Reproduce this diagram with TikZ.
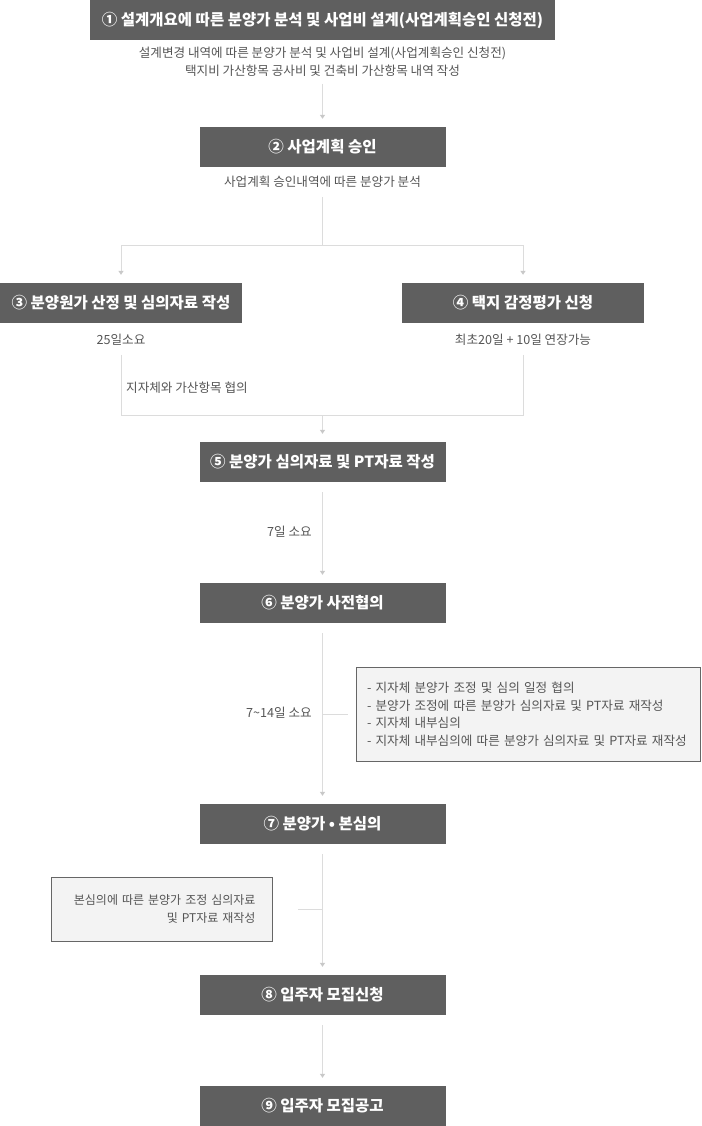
\documentclass[tikz,border=0pt]{standalone}
\usepackage{fontspec}
\setmainfont{Noto Sans CJK KR}
\usepackage{tikz}
\usetikzlibrary{arrows.meta}
\definecolor{boxgray}{HTML}{5F5F5F}
\definecolor{descgray}{HTML}{555555}
\definecolor{linegray}{HTML}{DCDCDC}
\definecolor{tipgray}{HTML}{C8C8C8}
\definecolor{notefill}{HTML}{F3F3F3}
\definecolor{noteline}{HTML}{666666}

\begin{document}
\begin{tikzpicture}[x=1pt,y=-1pt,
    stepbox/.style={fill=boxgray,text=white,font=\fontsize{15.5}{18}\selectfont\bfseries,minimum height=40pt,inner sep=0pt},
    desc/.style={text=descgray,font=\fontsize{12.6}{18}\selectfont,inner sep=0pt,align=center},
    notebox/.style={draw=noteline,fill=notefill,line width=0.8pt,text=descgray,font=\fontsize{12.6}{17.5}\selectfont,inner ysep=0pt},
    link/.style={draw=linegray,line width=1pt},
    flow/.style={link,-{Triangle[width=5pt,length=4pt,color=tipgray]},shorten >=8pt}]
                      \useasboundingbox (0,0) rectangle (701,1126);
                      \node[stepbox,minimum width=465pt](b1)at(322.5,20){① 설계개요에 따른 분양가 분석 및 사업비 설계(사업계획승인 신청전)};
                      \node[desc](d1)at(322.5,62){설계변경 내역에 따른 분양가 분석 및 사업비 설계(사업계획승인 신청전)\\택지비 가산항목 공사비 및 건축비 가산항목 내역 작성};
                      \node[stepbox,minimum width=246pt](b2)at(322.5,147){② 사업계획 승인};
                      \node[desc](d2)at(322.5,182){사업계획 승인내역에 따른 분양가 분석};
                      \node[stepbox,minimum width=242pt](b3)at(121,303){③ 분양원가 산정 및 심의자료 작성};
                      \node[stepbox,minimum width=242pt](b4)at(523,303){④ 택지 감정평가 신청};
                      \node[desc](t3)at(121,340){25일소요};
                      \node[desc](t4)at(523,340){최초20일 + 10일 연장가능};
                      \node[desc,anchor=west](t34)at(126,388){지자체와 가산항목 협의};
                      \node[stepbox,minimum width=246pt](b5)at(322.5,462){⑤ 분양가 심의자료 및 PT자료 작성};
                      \node[desc,anchor=east](t5)at(312,532){7일 소요};
                      \node[stepbox,minimum width=246pt](b6)at(322.5,603){⑥ 분양가 사전협의};
                      \node[desc,anchor=east](t6)at(312,713){7\textasciitilde 14일 소요};
                      \node[notebox,minimum width=344pt,minimum height=94pt,text width=322pt,inner xsep=11pt,align=left](n6)at(528,714){- 지자체 분양가 조정 및 심의 일정 협의\\- 분양가 조정에 따른 분양가 심의자료 및 PT자료 재작성\\- 지자체 내부심의\\- 지자체 내부심의에 따른 분양가 심의자료 및 PT자료 재작성};
                      \node[stepbox,minimum width=246pt](b7)at(322.5,824){⑦ 분양가 • 본심의};
                      \node[notebox,minimum width=221pt,minimum height=64pt,text width=188pt,inner xsep=16.5pt,align=right,font=\fontsize{12}{18}\selectfont](n7)at(161.5,909){본심의에 따른 분양가 조정 심의자료\\및 PT자료 재작성};
                      \node[stepbox,minimum width=246pt](b8)at(322.5,995){⑧ 입주자 모집신청};
                      \node[stepbox,minimum width=246pt](b9)at(322.5,1106){⑨ 입주자 모집공고};
                      \coordinate (j2) at (322.5,245);
                      \coordinate (j5) at (322.5,415);
                      \coordinate (k6) at (322.5,714);
                      \coordinate (k7) at (322.5,909);
                      \draw[flow,shorten <=7pt] (d1) -- (b2);
                      \draw[link,shorten <=9pt] (d2) -- (j2);
                      \draw[flow] (j2) -| (b3);
                      \draw[flow] (j2) -| (b4);
                      \draw[link,shorten <=9pt] (t3) |- (j5);
                      \draw[link,shorten <=9pt] (t4) |- (j5);
                      \draw[flow] (j5) -- (b5);
                      \draw[flow,shorten <=10pt] (b5) -- (b6);
                      \draw[flow,shorten <=10pt] (b6) -- (b7);
                      \draw[link,shorten >=8pt] (k6) -- (n6);
                      \draw[flow,shorten <=10pt] (b7) -- (b8);
                      \draw[link,shorten >=26pt] (k7) -- (n7);
                      \draw[flow,shorten <=10pt] (b8) -- (b9);
                  \end{tikzpicture}
\end{document}
